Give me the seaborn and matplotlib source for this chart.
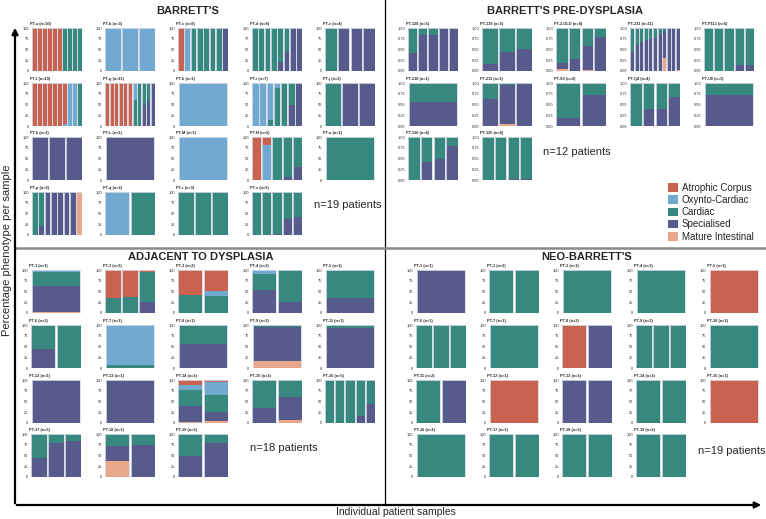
import matplotlib
matplotlib.use("Agg")
import matplotlib.pyplot as plt
import seaborn as sns
import pandas as pd
from matplotlib.patches import Patch

# phenotype order = stacking order from the top of each bar down to the bottom
PHENOTYPES = ["Atrophic Corpus", "Oxynto-Cardiac", "Cardiac", "Specialised", "Mature Intestinal"]
COLORS = ["#c9634f", "#72a9d1", "#37897f", "#565b8b", "#e9a78a"]

# full single-phenotype samples, % per phenotype (AC, OC, Ca, Sp, MI)
AC = (100, 0, 0, 0, 0)
OC = (0, 100, 0, 0, 0)
CA = (0, 0, 100, 0, 0)
SP = (0, 0, 0, 100, 0)
MI = (0, 0, 0, 0, 100)

barretts_names = ["PT-a (n=10)", "PT-b (n=3)", "PT-c (n=8)", "PT-d (n=8)", "PT-e (n=4)",
                  "PT-f (n=10)", "PT-g (n=11)", "PT-h (n=1)", "PT-i (n=7)", "PT-j (n=3)",
                  "PT-k (n=3)", "PT-L (n=1)", "PT-M (n=1)", "PT-N (n=5)", "PT-o (n=1)",
                  "PT-p (n=8)", "PT-q (n=2)", "PT-r (n=3)", "PT-s (n=5)"]
barretts_samples = [
    [AC] * 6 + [CA] * 4,
    [OC] * 3,
    [AC, OC] + [CA] * 5 + [SP],
    [CA] * 4 + [(0, 0, 80, 20, 0), (0, 0, 55, 45, 0), SP, SP],
    [CA, SP, SP, SP],
    [AC] * 6 + [(95, 5, 0, 0, 0), OC, OC, CA],
    [AC] * 6 + [(0, 40, 60, 0, 0), CA, (0, 0, 50, 50, 0), (0, 0, 40, 60, 0), SP],
    [OC],
    [OC, OC, (0, 85, 15, 0, 0), (0, 12, 88, 0, 0), CA, (0, 0, 50, 50, 0), SP],
    [CA, SP, SP],
    [SP] * 3,
    [SP],
    [OC],
    [AC, (18, 82, 0, 0, 0), (0, 3, 97, 0, 0), (0, 0, 92, 8, 0), (0, 0, 70, 30, 0)],
    [CA],
    [CA, (0, 0, 80, 20, 0)] + [SP] * 5 + [MI],
    [OC, CA],
    [CA] * 3,
    [CA, CA, (0, 0, 97, 3, 0), (0, 0, 63, 37, 0), (0, 0, 58, 42, 0)],
]

predys_names = ["PT-128 (n=5)", "PT-139 (n=3)", "PT-2-OLD (n=4)", "PT-231 (n=11)", "PT-P113 (n=5)",
                "PT-210 (n=1)", "PT-211 (n=3)", "PT-S3 (n=2)", "PT-Q4 (n=4)", "PT-U8 (n=1)",
                "PT-120 (n=4)", "PT-125 (n=4)"]
predys_samples = [
    [(0, 0, 58, 42, 0), (0, 0, 17, 83, 0), (0, 0, 15, 85, 0), SP, SP],
    [(0, 0, 83, 17, 0), (0, 0, 55, 45, 0), (0, 0, 48, 52, 0)],
    [(0, 0, 81, 15, 4), (0, 0, 73, 27, 0), (0, 0, 42, 55, 3), (0, 0, 20, 80, 0)],
    [(0, 0, 55, 45, 0), (0, 0, 40, 60, 0), (0, 0, 32, 68, 0), (0, 0, 28, 72, 0),
     (0, 0, 25, 75, 0), (0, 0, 22, 78, 0), (0, 0, 13, 87, 0), (0, 0, 7, 63, 30),
     (0, 0, 3, 97, 0), SP, (0, 0, 0, 97, 3)],
    [CA, CA, CA, (0, 0, 85, 15, 0), (0, 0, 85, 15, 0)],
    [(0, 0, 45, 55, 0)],
    [(0, 0, 38, 62, 0), (0, 0, 5, 90, 5), SP],
    [(0, 0, 82, 18, 0), (0, 0, 28, 72, 0)],
    [CA, (0, 0, 60, 40, 0), (0, 0, 60, 40, 0), (0, 0, 33, 67, 0)],
    [(0, 0, 28, 72, 0)],
    [CA, (0, 0, 58, 42, 0), (0, 0, 50, 50, 0), (0, 0, 20, 80, 0)],
    [CA, CA, (0, 0, 98, 2, 0), (0, 0, 98, 2, 0)],
]

adjacent_names = ["PT-1 (n=1)", "PT-2 (n=3)", "PT-3 (n=2)", "PT-4 (n=2)", "PT-5 (n=1)",
                  "PT-6 (n=2)", "PT-7 (n=1)", "PT-8 (n=1)", "PT-9 (n=1)", "PT-11 (n=1)",
                  "PT-12 (n=1)", "PT-13 (n=1)", "PT-14 (n=2)", "PT-15 (n=2)", "PT-16 (n=5)",
                  "PT-17 (n=3)", "PT-18 (n=2)", "PT-19 (n=2)"]
adjacent_samples = [
    [(0, 4, 34, 60, 2)],
    [(64, 0, 36, 0, 0), (62, 0, 38, 0, 0), (4, 0, 70, 26, 0)],
    [(59, 0, 41, 0, 0), (48, 12, 40, 0, 0)],
    [(0, 10, 36, 54, 0), (0, 0, 74, 26, 0)],
    [(0, 0, 66, 34, 0)],
    [(0, 3, 53, 44, 0), CA],
    [(0, 93, 7, 0, 0)],
    [(0, 0, 43, 57, 0)],
    [(0, 0, 5, 78, 17)],
    [(0, 0, 7, 93, 0)],
    [SP],
    [SP],
    [(12, 11, 37, 37, 3), (4, 31, 39, 21, 5)],
    [(0, 0, 66, 34, 0), (0, 0, 39, 55, 6)],
    [CA, CA, CA, (0, 0, 84, 16, 0), (0, 0, 55, 45, 0)],
    [(0, 0, 56, 44, 0), (0, 0, 21, 79, 0), (0, 0, 16, 84, 0)],
    [(0, 0, 27, 35, 38), (0, 0, 25, 74, 1)],
    [(0, 0, 52, 48, 0), (0, 0, 21, 79, 0)],
]

neo_names = ["PT-1 (n=1)", "PT-2 (n=2)", "PT-3 (n=1)", "PT-4 (n=1)", "PT-5 (n=1)",
             "PT-6 (n=3)", "PT-7 (n=1)", "PT-8 (n=2)", "PT-9 (n=3)", "PT-10 (n=1)",
             "PT-11 (n=2)", "PT-12 (n=1)", "PT-13 (n=2)", "PT-14 (n=2)", "PT-15 (n=1)",
             "PT-16 (n=1)", "PT-17 (n=2)", "PT-18 (n=2)", "PT-19 (n=2)"]
neo_samples = [
    [SP], [CA, CA], [CA], [CA], [AC],
    [CA] * 3, [CA], [AC, SP], [CA] * 3, [CA],
    [CA, SP], [AC], [SP, SP], [CA, CA], [AC],
    [CA], [CA, CA], [CA, CA], [CA, CA],
]

W, H = 766, 519
PANEL_W, PANEL_H = 50, 43


def draw_panel(fig, left, top, name, samples, fraction=False):
    ax = fig.add_axes([left / W, 1 - (top + PANEL_H) / H, PANEL_W / W, PANEL_H / H])
    scale = 0.01 if fraction else 1.0
    df = pd.DataFrame(samples, columns=PHENOTYPES) * scale
    order = [str(i) for i in range(len(df))]
    # cumulative heights, bottom (Mature Intestinal) to top (Atrophic Corpus)
    cum = df[PHENOTYPES[::-1]].cumsum(axis=1)
    cum["sample"] = order
    for phen, col in zip(PHENOTYPES, COLORS):
        sns.barplot(data=cum, x="sample", y=phen, order=order, color=col, width=0.9,
                    saturation=1, linewidth=0, errorbar=None, ax=ax)
    sns.barplot(data=cum, x="sample", y=PHENOTYPES[0], order=order, color="#d6dbe8",
                width=0.9, fill=False, linewidth=0.6, errorbar=None, ax=ax)
    top_val = 1.0 if fraction else 100
    ax.set_xlim(-0.46, len(df) - 0.54)
    ax.set_ylim(0, top_val * 1.005)
    ticks = [top_val * f for f in (0, 0.25, 0.5, 0.75, 1)]
    ax.set_yticks(ticks)
    if fraction:
        ax.set_yticklabels([f"{t:.2f}" for t in ticks])
    else:
        ax.set_yticklabels([f"{int(t)}" for t in ticks])
    ax.set_xticks([])
    ax.set_xlabel("")
    ax.set_ylabel("")
    for s in ax.spines.values():
        s.set_visible(False)
    ax.tick_params(axis="y", labelsize=2.9, length=1.2, width=0.3, pad=0.8, colors="#333333")
    ax.text(-0.04, 1.04, name, transform=ax.transAxes, fontsize=2.8, fontweight="bold",
            ha="left", va="bottom")
    return ax


sns.set_theme(style="white")
plt.rcParams["font.family"] = ["Liberation Sans", "DejaVu Sans"]

fig = plt.figure(figsize=(W / 100, H / 100), dpi=100)

overlay = fig.add_axes([0, 0, 1, 1])
overlay.set_xlim(0, W)
overlay.set_ylim(H, 0)
overlay.axis("off")

quadrants = [
    (barretts_names, barretts_samples, [32, 105, 178, 252, 325], [28, 83, 137, 192], False),
    (predys_names, predys_samples, [408, 482, 556, 630, 704], [28, 83, 137], True),
    (adjacent_names, adjacent_samples, [31, 105, 178, 252, 325], [270, 325, 380, 434], False),
    (neo_names, neo_samples, [416, 489, 562, 636, 709], [270, 325, 380, 434], False),
]
for names, samples, lefts, tops, frac in quadrants:
    for i, (name, smp) in enumerate(zip(names, samples)):
        draw_panel(fig, lefts[i % 5], tops[i // 5], name, smp, fraction=frac)

# frame: dividers and axis arrows
overlay.plot([385, 385], [0, 505], color="black", lw=0.9)
overlay.plot([15, W], [248, 248], color="#8a8a8a", lw=1.8)
overlay.annotate("", xy=(15, 25), xytext=(15, 506),
                 arrowprops=dict(arrowstyle="-|>", lw=1.6, color="black", mutation_scale=9))
overlay.annotate("", xy=(764, 505), xytext=(14, 505),
                 arrowprops=dict(arrowstyle="-|>", lw=1.6, color="black", mutation_scale=9))

# quadrant titles and counts
for x, y, t in [(188, 11, "BARRETT'S"), (565, 11, "BARRETT'S PRE-DYSPLASIA"),
                (201, 257, "ADJACENT TO DYSPLASIA"), (587, 257, "NEO-BARRETT'S")]:
    overlay.text(x, y, t, ha="center", va="center", fontsize=8, fontweight="bold")
for x, y, t in [(314, 205, "n=19 patients"), (543, 152, "n=12 patients"),
                (250, 448, "n=18 patients"), (698, 451, "n=19 patients")]:
    overlay.text(x, y, t, ha="left", va="center", fontsize=8)

overlay.text(7, 250, "Percentage phenotype per sample", rotation=90, ha="center",
             va="center", fontsize=8)
overlay.text(396, 512, "Individual patient samples", ha="center", va="center", fontsize=7.5)

handles = [Patch(facecolor=c, edgecolor="none") for c in COLORS]
fig.legend(handles, PHENOTYPES, loc="upper left", bbox_to_anchor=(668 / W, 1 - 183 / H),
           frameon=False, fontsize=7, handlelength=1.0, handleheight=1.0,
           handletextpad=0.4, labelspacing=0.22, borderaxespad=0, borderpad=0)

fig.savefig("out.png", dpi=100)
